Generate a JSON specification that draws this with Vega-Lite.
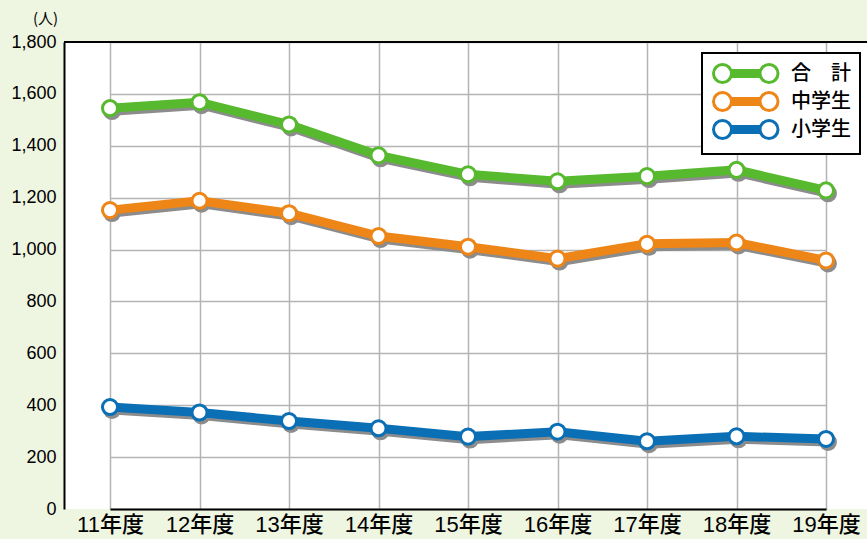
{
  "$schema": "https://vega.github.io/schema/vega-lite/v6.json",
  "width": 803,
  "height": 467,
  "autosize": {"type": "none"},
  "padding": {"left": 64, "top": 42, "right": 0, "bottom": 30},
  "background": "#eef5e1",
  "config": {
    "view": {"fill": "white", "stroke": null},
    "legend": {
      "orient": "none",
      "legendX": 638,
      "legendY": 11,
      "direction": "vertical",
      "fillColor": "white",
      "strokeColor": "black",
      "strokeWidth": 2,
      "padding": 9,
      "symbolType": "M-0.9,0A0.9,0.9,0,1,0,0.9,0A0.9,0.9,0,1,0,-0.9,0ZM3.75,0A0.9,0.9,0,1,0,5.55,0A0.9,0.9,0,1,0,3.75,0ZM0.9,-0.3L3.75,-0.3M0.9,-0.1L3.75,-0.1M0.9,0.1L3.75,0.1M0.9,0.3L3.75,0.3",
      "symbolSize": 400,
      "symbolStrokeWidth": 3,
      "symbolFillColor": "white",
      "symbolOpacity": 1,
      "labelFont": "Noto Sans CJK JP",
      "labelFontSize": 20,
      "labelFontWeight": 500,
      "labelColor": "black",
      "labelOffset": 57,
      "rowPadding": -3
    }
  },
  "data": {
    "values": [
      {"year": "11年度", "series": "合　計", "value": 1545},
      {"year": "12年度", "series": "合　計", "value": 1568},
      {"year": "13年度", "series": "合　計", "value": 1482},
      {"year": "14年度", "series": "合　計", "value": 1363},
      {"year": "15年度", "series": "合　計", "value": 1290},
      {"year": "16年度", "series": "合　計", "value": 1263},
      {"year": "17年度", "series": "合　計", "value": 1283},
      {"year": "18年度", "series": "合　計", "value": 1307},
      {"year": "19年度", "series": "合　計", "value": 1228},
      {"year": "11年度", "series": "中学生", "value": 1152},
      {"year": "12年度", "series": "中学生", "value": 1188},
      {"year": "13年度", "series": "中学生", "value": 1140},
      {"year": "14年度", "series": "中学生", "value": 1052},
      {"year": "15年度", "series": "中学生", "value": 1011},
      {"year": "16年度", "series": "中学生", "value": 965},
      {"year": "17年度", "series": "中学生", "value": 1022},
      {"year": "18年度", "series": "中学生", "value": 1027},
      {"year": "19年度", "series": "中学生", "value": 958},
      {"year": "11年度", "series": "小学生", "value": 393},
      {"year": "12年度", "series": "小学生", "value": 372},
      {"year": "13年度", "series": "小学生", "value": 339},
      {"year": "14年度", "series": "小学生", "value": 311},
      {"year": "15年度", "series": "小学生", "value": 279},
      {"year": "16年度", "series": "小学生", "value": 298},
      {"year": "17年度", "series": "小学生", "value": 261},
      {"year": "18年度", "series": "小学生", "value": 280},
      {"year": "19年度", "series": "小学生", "value": 270}
    ]
  },
  "encoding": {
    "x": {
      "field": "year",
      "type": "ordinal",
      "sort": null,
      "scale": {"type": "point", "range": [46, 762], "padding": 0},
      "axis": {
        "title": null,
        "labelAngle": 0,
        "labelFont": "Liberation Sans, Noto Sans CJK JP",
        "labelFontSize": 22,
        "labelFontWeight": 500,
        "labelColor": "black",
        "labelPadding": 5,
        "ticks": false,
        "domainColor": "black",
        "domainWidth": 2,
        "grid": true,
        "gridColor": "#b4b4b4",
        "gridWidth": 1.5
      }
    },
    "y": {
      "field": "value",
      "type": "quantitative",
      "scale": {"domain": [0, 1800], "nice": false},
      "axis": {
        "values": [0, 200, 400, 600, 800, 1000, 1200, 1400, 1600, 1800],
        "format": ",d",
        "labelFont": "Liberation Sans",
        "labelFontSize": 18,
        "labelColor": "black",
        "labelPadding": 8,
        "ticks": false,
        "domainColor": "black",
        "domainWidth": 2,
        "grid": true,
        "gridColor": "#b4b4b4",
        "gridWidth": 1.5,
        "title": "(人)",
        "titleAngle": 0,
        "titleFont": "Noto Sans CJK JP",
        "titleFontSize": 15,
        "titleFontWeight": "normal",
        "titleColor": "black",
        "titleAlign": "center",
        "titleBaseline": "middle",
        "titleX": -19,
        "titleY": -24
      }
    }
  },
  "layer": [
    {
      "mark": {"type": "rule", "color": "black", "strokeWidth": 2},
      "encoding": {"y": {"datum": 1800, "type": "quantitative"}, "x": {}}
    },
    {
      "mark": {"type": "line", "color": "#8c8c8c", "strokeWidth": 9, "xOffset": 2, "yOffset": 3},
      "encoding": {"detail": {"field": "series"}}
    },
    {
      "mark": {"type": "circle", "color": "#8c8c8c", "size": 320, "opacity": 1, "xOffset": 2, "yOffset": 3}
    },
    {
      "mark": {"type": "line", "strokeWidth": 9},
      "encoding": {
        "stroke": {
          "field": "series",
          "type": "nominal",
          "scale": {"domain": ["合　計", "中学生", "小学生"], "range": ["#57b92e", "#ee8517", "#0a6fb5"]},
          "legend": {"title": null}
        }
      }
    },
    {
      "mark": {"type": "point", "shape": "circle", "filled": true, "fill": "white", "strokeWidth": 3, "size": 227, "opacity": 1},
      "encoding": {
        "stroke": {
          "field": "series",
          "type": "nominal",
          "scale": {"domain": ["合　計", "中学生", "小学生"], "range": ["#57b92e", "#ee8517", "#0a6fb5"]},
          "legend": {"title": null}
        }
      }
    }
  ]
}
